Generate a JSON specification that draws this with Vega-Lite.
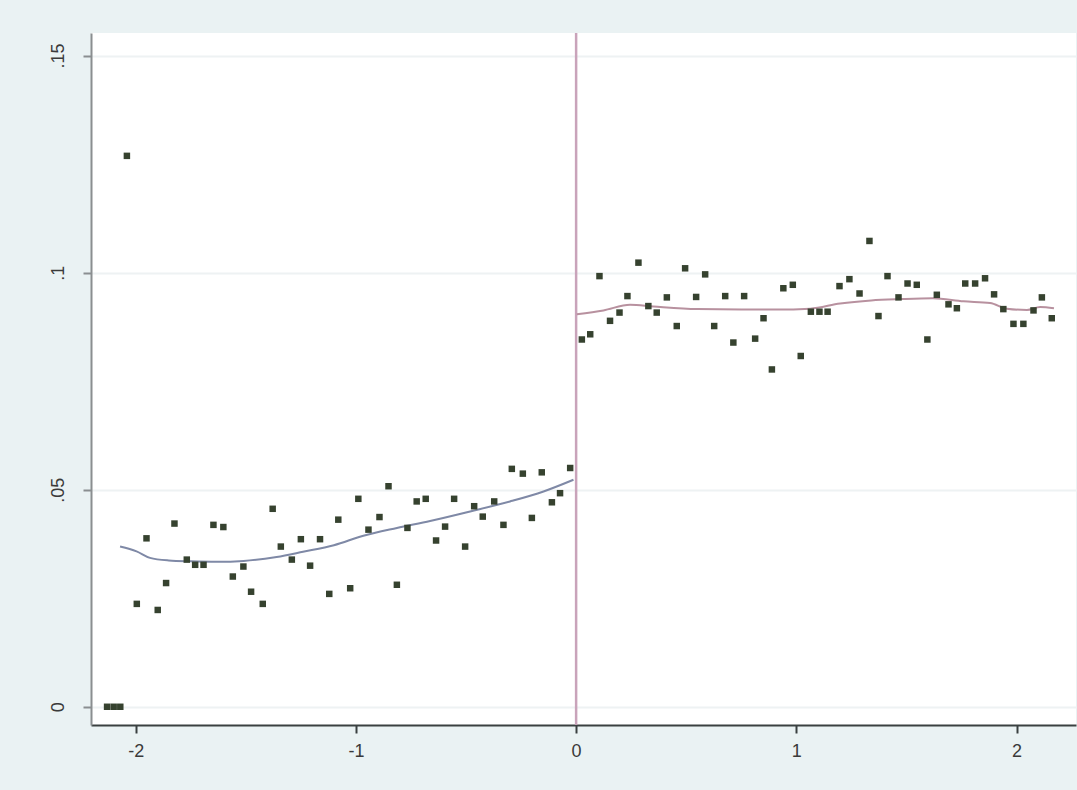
{
  "$schema": "https://vega.github.io/schema/vega-lite/v6.json",
  "autosize": "none",
  "width": 985,
  "height": 692,
  "padding": {"left": 91, "top": 33, "right": 1, "bottom": 65},
  "background": "#EAF2F3",
  "view": {"fill": "white", "stroke": null},
  "datasets": {
    "pts": [
      {"x": -2.13, "y": 0.0}, {"x": -2.10, "y": 0.0}, {"x": -2.07, "y": 0.0},
      {"x": -2.04, "y": 0.1269}, {"x": -1.995, "y": 0.0237}, {"x": -1.951, "y": 0.0388},
      {"x": -1.90, "y": 0.0223}, {"x": -1.862, "y": 0.0285}, {"x": -1.824, "y": 0.0422},
      {"x": -1.768, "y": 0.0339}, {"x": -1.730, "y": 0.0327}, {"x": -1.692, "y": 0.0327},
      {"x": -1.647, "y": 0.0419}, {"x": -1.602, "y": 0.0414}, {"x": -1.559, "y": 0.0300},
      {"x": -1.511, "y": 0.0323}, {"x": -1.476, "y": 0.0265}, {"x": -1.423, "y": 0.0237},
      {"x": -1.378, "y": 0.0456}, {"x": -1.341, "y": 0.0369}, {"x": -1.291, "y": 0.0339},
      {"x": -1.250, "y": 0.0386}, {"x": -1.208, "y": 0.0325}, {"x": -1.163, "y": 0.0386},
      {"x": -1.121, "y": 0.0260}, {"x": -1.080, "y": 0.0431}, {"x": -1.026, "y": 0.0273},
      {"x": -0.989, "y": 0.0479}, {"x": -0.943, "y": 0.0408}, {"x": -0.893, "y": 0.0437},
      {"x": -0.852, "y": 0.0508}, {"x": -0.814, "y": 0.0281}, {"x": -0.766, "y": 0.0412},
      {"x": -0.724, "y": 0.0473}, {"x": -0.683, "y": 0.0479}, {"x": -0.636, "y": 0.0383},
      {"x": -0.595, "y": 0.0415}, {"x": -0.554, "y": 0.0479}, {"x": -0.504, "y": 0.0369},
      {"x": -0.463, "y": 0.0462}, {"x": -0.424, "y": 0.0438}, {"x": -0.372, "y": 0.0473},
      {"x": -0.330, "y": 0.0419}, {"x": -0.292, "y": 0.0548}, {"x": -0.242, "y": 0.0537},
      {"x": -0.201, "y": 0.0435}, {"x": -0.156, "y": 0.0540}, {"x": -0.110, "y": 0.0471},
      {"x": -0.073, "y": 0.0492}, {"x": -0.027, "y": 0.0550},
      {"x": 0.026, "y": 0.0846}, {"x": 0.064, "y": 0.0858}, {"x": 0.106, "y": 0.0992},
      {"x": 0.154, "y": 0.0889}, {"x": 0.197, "y": 0.0908}, {"x": 0.233, "y": 0.0946},
      {"x": 0.283, "y": 0.1023}, {"x": 0.328, "y": 0.0923}, {"x": 0.366, "y": 0.0908},
      {"x": 0.412, "y": 0.0943}, {"x": 0.457, "y": 0.0877}, {"x": 0.495, "y": 0.1010},
      {"x": 0.545, "y": 0.0944}, {"x": 0.586, "y": 0.0996}, {"x": 0.627, "y": 0.0877},
      {"x": 0.677, "y": 0.0946}, {"x": 0.714, "y": 0.0839}, {"x": 0.763, "y": 0.0946},
      {"x": 0.813, "y": 0.0848}, {"x": 0.851, "y": 0.0895}, {"x": 0.889, "y": 0.0777},
      {"x": 0.941, "y": 0.0964}, {"x": 0.984, "y": 0.0972}, {"x": 1.020, "y": 0.0808},
      {"x": 1.066, "y": 0.0910}, {"x": 1.105, "y": 0.0910}, {"x": 1.142, "y": 0.0910},
      {"x": 1.196, "y": 0.0969}, {"x": 1.241, "y": 0.0985}, {"x": 1.287, "y": 0.0952},
      {"x": 1.332, "y": 0.1073}, {"x": 1.373, "y": 0.0900}, {"x": 1.414, "y": 0.0992},
      {"x": 1.464, "y": 0.0943}, {"x": 1.505, "y": 0.0975}, {"x": 1.547, "y": 0.0972},
      {"x": 1.595, "y": 0.0846}, {"x": 1.638, "y": 0.0949}, {"x": 1.691, "y": 0.0927},
      {"x": 1.729, "y": 0.0918}, {"x": 1.767, "y": 0.0975}, {"x": 1.812, "y": 0.0975},
      {"x": 1.857, "y": 0.0987}, {"x": 1.898, "y": 0.0950}, {"x": 1.940, "y": 0.0916},
      {"x": 1.986, "y": 0.0882}, {"x": 2.031, "y": 0.0882}, {"x": 2.077, "y": 0.0913},
      {"x": 2.115, "y": 0.0943}, {"x": 2.160, "y": 0.0895}
    ],
    "fit": [
      {"x": -2.071, "y": 0.0369, "side": "left"}, {"x": -1.996, "y": 0.0358, "side": "left"},
      {"x": -1.935, "y": 0.0343, "side": "left"}, {"x": -1.85, "y": 0.0337, "side": "left"},
      {"x": -1.75, "y": 0.0335, "side": "left"}, {"x": -1.63, "y": 0.0334, "side": "left"},
      {"x": -1.51, "y": 0.0336, "side": "left"}, {"x": -1.36, "y": 0.0345, "side": "left"},
      {"x": -1.24, "y": 0.0357, "side": "left"}, {"x": -1.10, "y": 0.0372, "side": "left"},
      {"x": -0.966, "y": 0.0394, "side": "left"}, {"x": -0.814, "y": 0.0412, "side": "left"},
      {"x": -0.663, "y": 0.0428, "side": "left"}, {"x": -0.481, "y": 0.0450, "side": "left"},
      {"x": -0.30, "y": 0.0473, "side": "left"}, {"x": -0.148, "y": 0.0496, "side": "left"},
      {"x": -0.012, "y": 0.0523, "side": "left"},
      {"x": 0.003, "y": 0.0904, "side": "right"}, {"x": 0.124, "y": 0.0913, "side": "right"},
      {"x": 0.245, "y": 0.0926, "side": "right"}, {"x": 0.351, "y": 0.0922, "side": "right"},
      {"x": 0.55, "y": 0.0916, "side": "right"}, {"x": 0.75, "y": 0.0915, "side": "right"},
      {"x": 0.91, "y": 0.0915, "side": "right"}, {"x": 1.063, "y": 0.0917, "side": "right"},
      {"x": 1.199, "y": 0.0929, "side": "right"}, {"x": 1.34, "y": 0.0936, "side": "right"},
      {"x": 1.472, "y": 0.0939, "side": "right"}, {"x": 1.62, "y": 0.0941, "side": "right"},
      {"x": 1.759, "y": 0.0934, "side": "right"}, {"x": 1.88, "y": 0.0930, "side": "right"},
      {"x": 1.956, "y": 0.0917, "side": "right"}, {"x": 2.047, "y": 0.0914, "side": "right"},
      {"x": 2.107, "y": 0.0921, "side": "right"}, {"x": 2.17, "y": 0.0918, "side": "right"}
    ],
    "cut": [{"x": 0}]
  },
  "config": {
    "font": "Liberation Sans"
  },
  "layer": [
    {
      "data": {"name": "pts"},
      "mark": {"type": "point", "opacity": 0},
      "encoding": {
        "x": {
          "field": "x", "type": "quantitative",
          "scale": {"domain": [-2.203, 2.27], "nice": false, "zero": false},
          "axis": {
            "title": null,
            "values": [-2, -1, 0, 1, 2],
            "labelExpr": "'' + datum.value",
            "labelFont": "Liberation Sans", "labelFontSize": 18, "labelColor": "#3a3a3a",
            "grid": false,
            "domainColor": "#3a4040", "domainWidth": 2,
            "tickColor": "#3a4040", "tickSize": 8, "tickWidth": 2,
            "labelPadding": 9
          }
        },
        "y": {
          "field": "y", "type": "quantitative",
          "scale": {"domain": [-0.0042, 0.1552], "nice": false, "zero": false},
          "axis": {
            "title": null,
            "values": [0, 0.05, 0.1, 0.15],
            "labelExpr": "datum.value == 0 ? '0' : datum.value == 0.05 ? '.05' : datum.value == 0.1 ? '.1' : '.15'",
            "labelFont": "Liberation Sans", "labelFontSize": 18, "labelColor": "#3a3a3a",
            "labelAngle": -90,
            "labelAlign": "center",
            "labelBaseline": "bottom",
            "labelPadding": 16,
            "grid": true,
            "gridColor": "#EEF2F3", "gridWidth": 2,
            "domainColor": "#8a8e90", "domainWidth": 2,
            "tickColor": "#8a8e90", "tickSize": 8, "tickWidth": 2
          }
        }
      }
    },
    {
      "data": {"name": "cut"},
      "mark": {"type": "rule", "color": "#C9A3BA", "strokeWidth": 2.5},
      "encoding": {"x": {"field": "x", "type": "quantitative"}}
    },
    {
      "data": {"name": "fit"},
      "mark": {"type": "line", "strokeWidth": 2, "interpolate": "monotone"},
      "encoding": {
        "x": {"field": "x", "type": "quantitative"},
        "y": {"field": "y", "type": "quantitative"},
        "detail": {"field": "side"},
        "color": {
          "field": "side", "type": "nominal",
          "scale": {"domain": ["left", "right"], "range": ["#7F89A6", "#B8919F"]},
          "legend": null
        }
      }
    },
    {
      "data": {"name": "pts"},
      "mark": {"type": "square", "size": 42, "color": "#36422F", "opacity": 1},
      "encoding": {
        "x": {"field": "x", "type": "quantitative"},
        "y": {"field": "y", "type": "quantitative"}
      }
    }
  ]
}
